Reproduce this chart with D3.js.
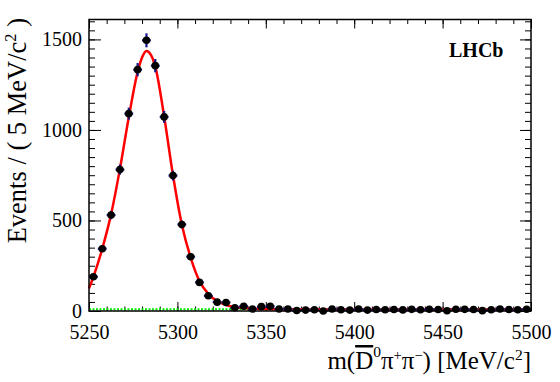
<!DOCTYPE html>
<html>
<head>
<meta charset="utf-8">
<script src="https://cdn.jsdelivr.net/npm/d3@7"></script>
<style>
  body { margin: 0; background: #fff; }
  svg text { font-family: "Liberation Serif", "Times New Roman", serif; fill: #000; }
</style>
</head>
<body>
<div id="chart"></div>
<script>
// data (5 MeV bins)
var massBins = [5252.5, 5257.5, 5262.5, 5267.5, 5272.5, 5277.5, 5282.5, 5287.5, 5292.5, 5297.5,
                5302.5, 5307.5, 5312.5, 5317.5, 5322.5, 5327.5, 5332.5, 5337.5, 5342.5, 5347.5,
                5352.5, 5357.5, 5362.5, 5367.5, 5372.5, 5377.5, 5382.5, 5387.5, 5392.5, 5397.5,
                5402.5, 5407.5, 5412.5, 5417.5, 5422.5, 5427.5, 5432.5, 5437.5, 5442.5, 5447.5,
                5452.5, 5457.5, 5462.5, 5467.5, 5472.5, 5477.5, 5482.5, 5487.5, 5492.5, 5497.5];
var eventCounts = [189, 344, 530, 781, 1090, 1333, 1495, 1355, 1072, 748,
                   478, 300, 158, 84, 49, 47, 18, 26, 11, 24,
                   26, 11, 11, 3, 5, 7, 0, 11, 7, 5,
                   11, 5, 8, 7, 8, 6, 9, 7, 10, 8,
                   1, 10, 9, 8, 2, 7, 11, 8, 7, 10];

// fit curve
var fitMass = [5250, 5252.5, 5257.5, 5262.5, 5267.5, 5272.5, 5277.5, 5280, 5282.5, 5285, 5287.5,
               5292.5, 5297.5, 5302.5, 5307.5, 5312.5, 5317.5, 5322.5, 5327.5, 5332.5, 5337.5,
               5345, 5360, 5400, 5500];
var fitValues = [125, 189, 344, 535, 785, 1070, 1320, 1400, 1436, 1415, 1350,
                 1075, 750, 478, 295, 165, 95, 55, 33, 22, 16,
                 12, 9, 8, 8];

// background component
var bkgMass = [5250, 5500];
var bkgValues = [9, 9];

var xTicks = [5250, 5300, 5350, 5400, 5450, 5500];
var yTicks = [0, 500, 1000, 1500];

var svg_Width = 560;
var svg_Height = 382;
var margin = { top: 19.5, right: 29, bottom: 71, left: 89 };
var chart_Width = svg_Width - margin.left - margin.right;
var chart_Height = svg_Height - margin.top - margin.bottom;

var svg = d3.select('#chart')
  .append('svg')
  .attr('width', svg_Width)
  .attr('height', svg_Height);

var chartGroup = svg.append('g')
  .attr('transform', 'translate(' + margin.left + ',' + margin.top + ')');

var xScale = d3.scaleLinear().domain([5250, 5500]).range([0, chart_Width]);
var yScale = d3.scaleLinear().domain([0, 1610]).range([chart_Height, 0]);

var minorX = d3.range(5250, 5501, 10);
var minorY = d3.range(0, 1601, 50);

function styleAxis(g) {
  g.select('.domain').remove();
  g.selectAll('.tick line').attr('stroke', '#000').attr('stroke-width', 1);
  g.attr('font-family', null).attr('font-size', null);
  g.selectAll('.tick text').attr('fill', '#000').style('font-size', '20px');
}

// bottom
chartGroup.append('g')
  .attr('transform', 'translate(0,' + chart_Height + ')')
  .call(d3.axisBottom(xScale).tickValues(minorX).tickSizeInner(-4.5).tickSizeOuter(0).tickFormat(''))
  .call(styleAxis);
chartGroup.append('g')
  .attr('transform', 'translate(0,' + chart_Height + ')')
  .call(d3.axisBottom(xScale).tickValues(xTicks).tickSizeInner(-9).tickSizeOuter(0).tickPadding(14).tickFormat(d3.format('d')))
  .call(styleAxis);
// top
chartGroup.append('g')
  .call(d3.axisTop(xScale).tickValues(minorX).tickSizeInner(-4.5).tickSizeOuter(0).tickFormat(''))
  .call(styleAxis);
chartGroup.append('g')
  .call(d3.axisTop(xScale).tickValues(xTicks).tickSizeInner(-9).tickSizeOuter(0).tickFormat(''))
  .call(styleAxis);
// left
chartGroup.append('g')
  .call(d3.axisLeft(yScale).tickValues(minorY).tickSizeInner(-6).tickSizeOuter(0).tickFormat(''))
  .call(styleAxis);
chartGroup.append('g')
  .call(d3.axisLeft(yScale).tickValues(yTicks).tickSizeInner(-12).tickSizeOuter(0).tickPadding(7).tickFormat(d3.format('d')))
  .call(styleAxis);
// right
chartGroup.append('g')
  .attr('transform', 'translate(' + chart_Width + ',0)')
  .call(d3.axisRight(yScale).tickValues(minorY).tickSizeInner(-6).tickSizeOuter(0).tickFormat(''))
  .call(styleAxis);
chartGroup.append('g')
  .attr('transform', 'translate(' + chart_Width + ',0)')
  .call(d3.axisRight(yScale).tickValues(yTicks).tickSizeInner(-11).tickSizeOuter(0).tickFormat(''))
  .call(styleAxis);

// background (green dotted)
var bkgLine = d3.line()
  .x(function(d, i) { return xScale(bkgMass[i]); })
  .y(function(d) { return yScale(d); });
chartGroup.append('path')
  .attr('d', bkgLine(bkgValues))
  .attr('fill', 'none')
  .attr('stroke', '#00ee00')
  .attr('stroke-width', 2)
  .attr('stroke-dasharray', '2,1.5');

// total fit (red)
var fitLine = d3.line()
  .x(function(d, i) { return xScale(fitMass[i]); })
  .y(function(d) { return yScale(d); })
  .curve(d3.curveMonotoneX);
chartGroup.append('path')
  .attr('d', fitLine(fitValues))
  .attr('fill', 'none')
  .attr('stroke', '#ff0000')
  .attr('stroke-width', 2.5);

// data points with errors
var pts = chartGroup.append('g').selectAll('g')
  .data(eventCounts)
  .enter()
  .append('g');

pts.append('line')
  .attr('x1', function(d, i) { return xScale(massBins[i] - 2.5); })
  .attr('x2', function(d, i) { return xScale(massBins[i] + 2.5); })
  .attr('y1', function(d) { return yScale(d); })
  .attr('y2', function(d) { return yScale(d); })
  .attr('stroke', '#14148c')
  .attr('stroke-width', 2.2);

pts.append('line')
  .attr('x1', function(d, i) { return xScale(massBins[i]); })
  .attr('x2', function(d, i) { return xScale(massBins[i]); })
  .attr('y1', function(d) { return yScale(d + Math.sqrt(d)); })
  .attr('y2', function(d) { return yScale(Math.max(d - Math.sqrt(d), 0)); })
  .attr('stroke', '#14148c')
  .attr('stroke-width', 2.2);

pts.append('circle')
  .attr('cx', function(d, i) { return xScale(massBins[i]); })
  .attr('cy', function(d) { return yScale(d); })
  .attr('r', 3.8)
  .attr('fill', '#000');

// frame
chartGroup.append('rect')
  .attr('width', chart_Width)
  .attr('height', chart_Height)
  .attr('fill', 'none')
  .attr('stroke', '#000')
  .attr('stroke-width', 1.5);

// LHCb label
svg.append('text')
  .attr('x', 449)
  .attr('y', 57)
  .attr('font-size', 20)
  .attr('font-weight', 'bold')
  .text('LHCb');

// y title
var yTitle = svg.append('text')
  .attr('transform', 'translate(26,18) rotate(-90)')
  .attr('text-anchor', 'end')
  .attr('font-size', 26.5);
yTitle.append('tspan').text('Events / ( 5 MeV/c');
yTitle.append('tspan').attr('font-size', 16.5).attr('dy', -10).text('2');
yTitle.append('tspan').attr('dy', 10).text(' )');

// x title
var xTitle = svg.append('text')
  .attr('x', 531)
  .attr('y', 369)
  .attr('text-anchor', 'end')
  .attr('font-size', 25);
xTitle.append('tspan').text('m(');
xTitle.append('tspan').style('text-decoration', 'overline').text('D');
xTitle.append('tspan').attr('font-size', 15.5).attr('dy', -12).text('0');
xTitle.append('tspan').attr('dy', 12).text('π');
xTitle.append('tspan').attr('font-size', 14.5).attr('dy', -9).text('+');
xTitle.append('tspan').attr('dy', 9).text('π');
xTitle.append('tspan').attr('font-size', 14.5).attr('dy', -9).text('−');
xTitle.append('tspan').attr('dy', 9).text(') [MeV/c');
xTitle.append('tspan').attr('font-size', 15.5).attr('dy', -9).text('2');
xTitle.append('tspan').attr('dy', 9).text(']');
</script>
</body>
</html>
